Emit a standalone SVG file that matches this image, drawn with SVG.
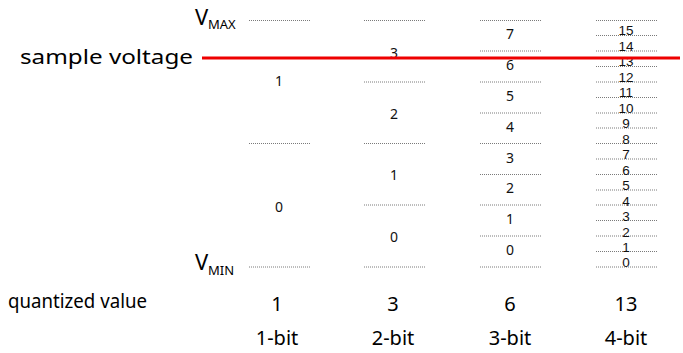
<svg xmlns="http://www.w3.org/2000/svg" width="683" height="353" viewBox="0 0 683 353">
<style>
.lv{stroke:#7a7a7a;stroke-width:1;stroke-dasharray:1 1;fill:none}
.d{font-family:"Noto Sans","DejaVu Sans",sans-serif;font-size:14px;fill:#111;text-anchor:middle}
.d4{font-family:"Liberation Sans",Arial,sans-serif;font-size:13.5px;fill:#111;text-anchor:middle}
.c{font-family:"Noto Sans","DejaVu Sans",sans-serif;fill:#000}
.b{font-family:"Noto Sans","DejaVu Sans",sans-serif;font-size:20px;fill:#000;text-anchor:middle}
</style>
<rect width="683" height="353" fill="#fff"/>
<g id="labels">
<text class="c" x="195" y="25" font-size="22">V</text><text class="c" x="208" y="29" font-size="13">MAX</text>
<text class="c" x="195" y="270" font-size="22">V</text><text class="c" x="208" y="275" font-size="13">MIN</text>
<text class="c" x="20" y="64" font-size="20" textLength="173" lengthAdjust="spacingAndGlyphs">sample voltage</text>
<text class="c" x="8" y="308" font-size="20" textLength="139" lengthAdjust="spacingAndGlyphs">quantized value</text>
</g>
<g id="col1">
<line class="lv" x1="249" y1="20.5" x2="310" y2="20.5"/>
<line class="lv" x1="249" y1="143.5" x2="310" y2="143.5"/>
<line class="lv" x1="249" y1="267" x2="310" y2="267"/>
<text class="d" x="279" y="86">1</text>
<text class="d" x="279" y="212">0</text>
</g>
<g id="col2">
<line class="lv" x1="364" y1="20.5" x2="426" y2="20.5"/>
<line class="lv" x1="364" y1="82" x2="426" y2="82"/>
<line class="lv" x1="364" y1="143.5" x2="426" y2="143.5"/>
<line class="lv" x1="364" y1="205" x2="426" y2="205"/>
<line class="lv" x1="364" y1="267" x2="426" y2="267"/>
<text class="d" x="394" y="58">3</text>
<text class="d" x="394" y="119">2</text>
<text class="d" x="394" y="180">1</text>
<text class="d" x="394" y="242">0</text>
</g>
<g id="col3">
<line class="lv" x1="480" y1="20.5" x2="542" y2="20.5"/>
<line class="lv" x1="480" y1="51" x2="542" y2="51"/>
<line class="lv" x1="480" y1="82" x2="542" y2="82"/>
<line class="lv" x1="480" y1="113" x2="542" y2="113"/>
<line class="lv" x1="480" y1="143.5" x2="542" y2="143.5"/>
<line class="lv" x1="480" y1="174.5" x2="542" y2="174.5"/>
<line class="lv" x1="480" y1="205" x2="542" y2="205"/>
<line class="lv" x1="480" y1="236" x2="542" y2="236"/>
<line class="lv" x1="480" y1="267" x2="542" y2="267"/>
<text class="d" x="510" y="39">7</text>
<text class="d" x="510" y="70">6</text>
<text class="d" x="510" y="101">5</text>
<text class="d" x="510" y="132">4</text>
<text class="d" x="510" y="163">3</text>
<text class="d" x="510" y="193">2</text>
<text class="d" x="510" y="224">1</text>
<text class="d" x="510" y="255">0</text>
</g>
<g id="col4">
<line class="lv" x1="596" y1="20.5" x2="658" y2="20.5"/>
<line class="lv" x1="596" y1="35.5" x2="658" y2="35.5"/>
<line class="lv" x1="596" y1="51" x2="658" y2="51"/>
<line class="lv" x1="596" y1="66.5" x2="658" y2="66.5"/>
<line class="lv" x1="596" y1="82" x2="658" y2="82"/>
<line class="lv" x1="596" y1="97.5" x2="658" y2="97.5"/>
<line class="lv" x1="596" y1="113" x2="658" y2="113"/>
<line class="lv" x1="596" y1="128" x2="658" y2="128"/>
<line class="lv" x1="596" y1="143.5" x2="658" y2="143.5"/>
<line class="lv" x1="596" y1="159" x2="658" y2="159"/>
<line class="lv" x1="596" y1="174.5" x2="658" y2="174.5"/>
<line class="lv" x1="596" y1="190" x2="658" y2="190"/>
<line class="lv" x1="596" y1="205" x2="658" y2="205"/>
<line class="lv" x1="596" y1="220.5" x2="658" y2="220.5"/>
<line class="lv" x1="596" y1="236" x2="658" y2="236"/>
<line class="lv" x1="596" y1="251.5" x2="658" y2="251.5"/>
<line class="lv" x1="596" y1="267" x2="658" y2="267"/>
<text class="d4" x="626" y="35">15</text>
<text class="d4" x="626" y="50.5">14</text>
<text class="d4" x="626" y="66">13</text>
<text class="d4" x="626" y="81.5">12</text>
<text class="d4" x="626" y="97">11</text>
<text class="d4" x="626" y="112.5">10</text>
<text class="d4" x="626" y="128">9</text>
<text class="d4" x="626" y="143.5">8</text>
<text class="d4" x="626" y="159">7</text>
<text class="d4" x="626" y="174.5">6</text>
<text class="d4" x="626" y="190">5</text>
<text class="d4" x="626" y="205.5">4</text>
<text class="d4" x="626" y="221">3</text>
<text class="d4" x="626" y="236.5">2</text>
<text class="d4" x="626" y="252">1</text>
<text class="d4" x="626" y="266.5">0</text>
</g>
<g id="bottom">
<text class="b" x="277" y="311">1</text>
<text class="b" x="393" y="311">3</text>
<text class="b" x="510" y="311">6</text>
<text class="b" x="626" y="311">13</text>
<text class="b" x="277" y="345">1-bit</text>
<text class="b" x="393" y="345">2-bit</text>
<text class="b" x="510" y="345">3-bit</text>
<text class="b" x="626" y="345">4-bit</text>
</g>
<g id="connectors">
<line x1="202" y1="58" x2="680" y2="58" stroke="#ee0000" stroke-width="3"/>
</g>
</svg>
